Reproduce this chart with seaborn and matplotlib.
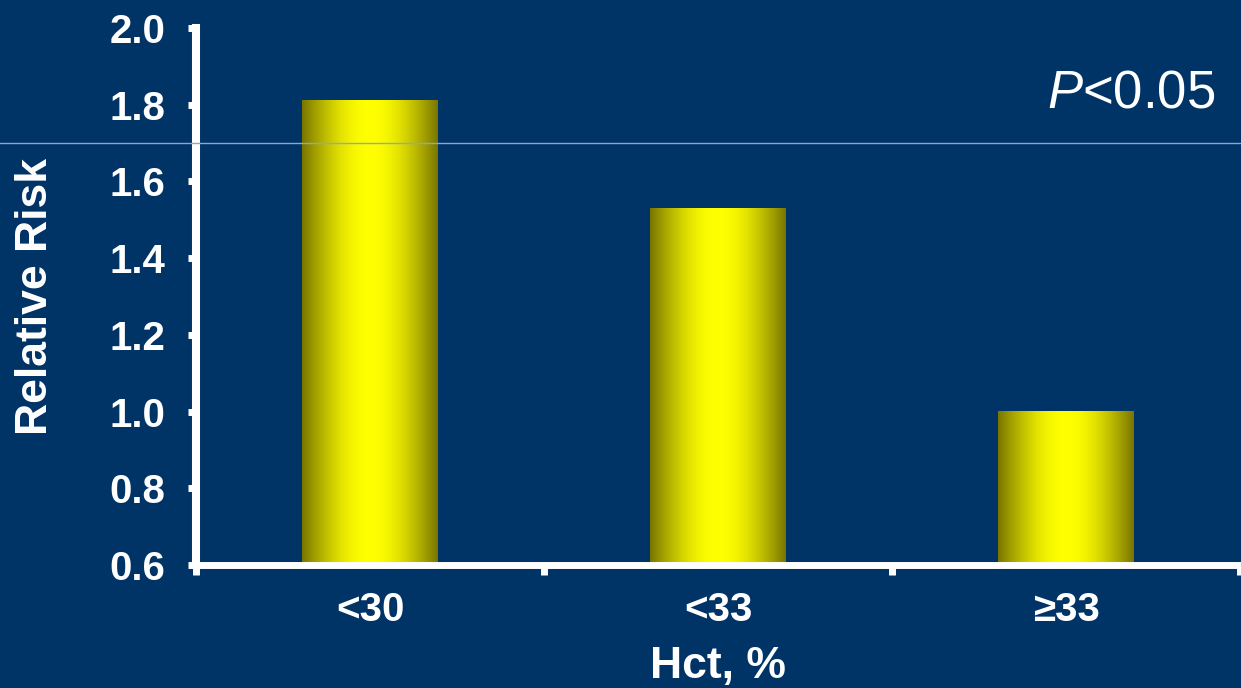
import numpy as np
import pandas as pd
import seaborn as sns
import matplotlib.pyplot as plt

# Relative risk by haematocrit category
categories = ["<30", "<33", "\u226533"]
relative_risk = [1.81, 1.53, 1.00]
y_ticks = [0.6, 0.8, 1.0, 1.2, 1.4, 1.6, 1.8, 2.0]
y_tick_labels = ["0.6", "0.8", "1.0", "1.2", "1.4", "1.6", "1.8", "2.0"]
y_limits = (0.6, 2.0)
x_label = "Hct, %"
y_label = "Relative Risk"
guide_level = 1.7

BG = "#003366"
WHITE = "#ffffff"
EDGE_RGB = np.array([0.478, 0.463, 0.0])
CENTER_RGB = np.array([1.0, 1.0, 0.0])

sns.set_style("dark", rc={
    "axes.facecolor": BG,
    "figure.facecolor": BG,
    "axes.edgecolor": WHITE,
    "axes.grid": False,
})
plt.rcParams["font.family"] = ["Liberation Sans", "DejaVu Sans"]
plt.rcParams["mathtext.fontset"] = "custom"
plt.rcParams["mathtext.rm"] = "Liberation Sans"
plt.rcParams["mathtext.it"] = "Liberation Sans:italic"

W, H = 1241, 688
fig = plt.figure(figsize=(W / 100, H / 100), dpi=100)
ax = fig.add_axes([196 / W, 123 / H, 1044 / W, 537 / H])

df = pd.DataFrame({"hct": categories, "rr": relative_risk})
sns.barplot(data=df, x="hct", y="rr", order=categories, width=0.39,
            color="yellow", saturation=1, edgecolor="none", ax=ax)

# Cylinder-style shading: dark olive at the edges, bright yellow in the middle
t = np.linspace(0, 1, 256)
shade = np.sin(np.pi * t)[:, None]
ramp = EDGE_RGB + (CENTER_RGB - EDGE_RGB) * shade
ramp_img = ramp[None, :, :]
for patch in list(ax.patches):
    x0, y0 = patch.get_x(), patch.get_y()
    w, h = patch.get_width(), patch.get_height()
    patch.set_facecolor("none")
    ax.imshow(ramp_img, extent=[x0, x0 + w, y0, y0 + h], aspect="auto",
              interpolation="bilinear", zorder=2)

ax.set_xlim(-0.5, 2.5)
ax.set_ylim(*y_limits)

# Axes styling
for side in ("top", "right"):
    ax.spines[side].set_visible(False)
ax.spines["left"].set_linewidth(5.8)
ax.spines["bottom"].set_linewidth(5.0)
ax.spines["left"].set_color(WHITE)
ax.spines["bottom"].set_color(WHITE)

ax.set_yticks(y_ticks, y_tick_labels)
ax.tick_params(axis="y", direction="out", length=5.8, width=5.0, color=WHITE,
               pad=16.5, labelsize=29, labelcolor=WHITE, left=True)
for lab in ax.get_yticklabels():
    lab.set_fontweight("bold")

ax.set_xticks([0, 1, 2], categories)
ax.set_xticks([-0.5, 0.5, 1.5, 2.5], minor=True)
ax.tick_params(axis="x", which="major", length=0, pad=19, labelsize=29,
               labelcolor=WHITE)
ax.tick_params(axis="x", which="minor", direction="out", length=7, width=5.0,
               color=WHITE, bottom=True)
for lab in ax.get_xticklabels():
    lab.set_fontweight("bold")

ax.set_xlabel(x_label, fontsize=32, fontweight="bold", color=WHITE, labelpad=12)
ax.set_ylabel(y_label, fontsize=32, fontweight="bold", color=WHITE, labelpad=38)

# Thin reference line spanning the full width
ax.axhline(guide_level, xmin=-0.2, xmax=1.0, clip_on=False, lw=1.0,
           color="#8ea6c8", zorder=5)

fig.text(1215 / W, 1 - 108 / H, r"$\mathit{P}$<0.05", ha="right", va="baseline",
         fontsize=38, color=WHITE)

fig.savefig("out.png", dpi=100, facecolor=BG)
